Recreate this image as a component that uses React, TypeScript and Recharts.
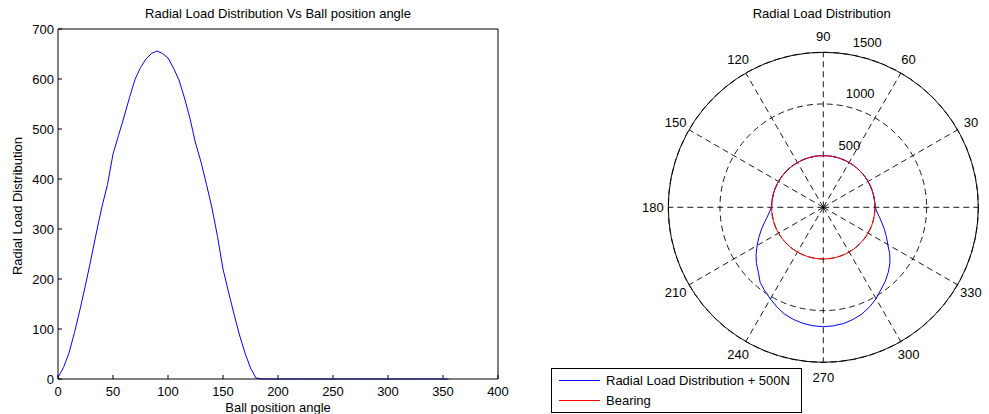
import React from 'react';
import {
  LineChart,
  Line,
  XAxis,
  YAxis,
  Label,
  RadarChart,
  Radar,
  PolarGrid,
  PolarAngleAxis,
  PolarRadiusAxis,
  Legend,
} from 'recharts';

const FONT = '"Liberation Sans", Arial, Helvetica, sans-serif';

// Ball position angle (degrees)
const ballAngles = [
  0, 5, 10, 15, 20, 25, 30, 35, 40, 45, 50, 55, 60, 65, 70, 75, 80, 85,
  90, 95, 100, 105, 110, 115, 120, 125, 130, 135, 140, 145, 150, 155, 160, 165, 170, 175,
  180, 185, 190, 195, 200, 205, 210, 215, 220, 225, 230, 235, 240, 245, 250, 255, 260, 265,
  270, 275, 280, 285, 290, 295, 300, 305, 310, 315, 320, 325, 330, 335, 340, 345, 350, 355,
];

// Radial load distribution (N)
const radialLoad = [
  3, 23, 52, 93, 139, 188, 240, 294, 345, 389,
  450, 487, 524, 563, 599, 623, 640, 651, 656, 651,
  642, 622, 598, 562, 521, 472, 434, 389, 342, 285,
  220, 174, 130, 88, 52, 22, 2,
  0, 0, 0, 0, 0, 0, 0, 0, 0, 0, 0, 0, 0, 0, 0, 0, 0, 0,
  0, 0, 0, 0, 0, 0, 0, 0, 0, 0, 0, 0, 0, 0, 0, 0, 0,
];

// Bearing radius (N) on the polar plot
const bearingLoad = [
  500, 500, 500, 500, 500, 500, 500, 500, 500, 500, 500, 500,
  500, 500, 500, 500, 500, 500, 500, 500, 500, 500, 500, 500,
  500, 500, 500, 500, 500, 500, 500, 500, 500, 500, 500, 500,
  500, 500, 500, 500, 500, 500, 500, 500, 500, 500, 500, 500,
  500, 500, 500, 500, 500, 500, 500, 500, 500, 500, 500, 500,
  500, 500, 500, 500, 500, 500, 500, 500, 500, 500, 500, 500,
];

const LOAD_OFFSET = 500; // "+ 500N"
const POLAR_ROTATION_STEPS = 36; // 180 degrees / 5-degree step

const xTicks = [0, 50, 100, 150, 200, 250, 300, 350, 400];
const yTicks = [0, 100, 200, 300, 400, 500, 600, 700];
const polarAngleTicks = [0, 30, 60, 90, 120, 150, 180, 210, 240, 270, 300, 330];
const polarRadiusTicks = [500, 1000, 1500];

const LEFT_TITLE = 'Radial Load Distribution Vs Ball position angle';
const RIGHT_TITLE = 'Radial Load Distribution';
const X_LABEL = 'Ball position angle';
const Y_LABEL = 'Radial Load Distribution';
const BLUE_NAME = 'Radial Load Distribution + 500N';
const RED_NAME = 'Bearing';
const LEGEND_ORDER = [BLUE_NAME, RED_NAME];

const lineData = ballAngles.map((a, i) => ({ angle: a, load: radialLoad[i] }));
const polarData = ballAngles.map((a, i) => ({
  angle: a,
  blue: LOAD_OFFSET + radialLoad[(i + POLAR_ROTATION_STEPS) % radialLoad.length],
  bearing: bearingLoad[i],
}));

const AngleTick = (props: any) => {
  const { x, y, payload } = props;
  return (
    <text x={x} y={y} textAnchor="middle" dominantBaseline="central" fill="#000" fontSize={13} fontFamily={FONT}>
      {payload.value}
    </text>
  );
};

const RadiusTick = (props: any) => {
  const { x, y, payload } = props;
  if (!payload || payload.value === 0) return <g />;
  return (
    <text x={x + 8} y={y - 11} textAnchor="start" dominantBaseline="central" fill="#000" fontSize={13} fontFamily={FONT}>
      {payload.value}
    </text>
  );
};

const LegendBox = (props: any) => {
  const items = [...(props.payload || [])].sort(
    (a: any, b: any) => LEGEND_ORDER.indexOf(a.value) - LEGEND_ORDER.indexOf(b.value)
  );
  return (
    <div
      style={{
        position: 'relative',
        width: 249,
        height: 43,
        border: '1px solid #000',
        background: '#fff',
        fontFamily: FONT,
        fontSize: 13,
        color: '#000',
      }}
    >
      {items.map((it: any, i: number) => (
        <div
          key={i}
          style={{ position: 'absolute', left: 0, top: 2 + i * 20, height: 18, display: 'flex', alignItems: 'center' }}
        >
          <span style={{ display: 'inline-block', marginLeft: 7, width: 41, height: 0, borderTop: `1px solid ${it.color}` }} />
          <span style={{ marginLeft: 6, whiteSpace: 'nowrap' }}>{it.value}</span>
        </div>
      ))}
    </div>
  );
};

const YLabel = (props: any) => {
  const vb = props.viewBox || { x: 0, y: 0, width: 0, height: 0 };
  const cx = vb.x + 17;
  const cy = vb.y + vb.height / 2 + 2;
  return (
    <text
      x={cx}
      y={cy}
      transform={`rotate(-90, ${cx}, ${cy})`}
      textAnchor="middle"
      dominantBaseline="central"
      fill="#000"
      fontSize={13}
      fontFamily={FONT}
    >
      {Y_LABEL}
    </text>
  );
};

export default function App() {
  return (
    <div style={{ position: 'absolute', left: 0, top: 0, width: 989, height: 414, background: '#fff', fontFamily: FONT, overflow: 'hidden' }}>
      <div style={{ position: 'absolute', left: 0, top: 0 }}>
        <LineChart width={520} height={414} data={lineData} margin={{ top: 28, right: 21, bottom: 0, left: 0 }}>
          <XAxis
            xAxisId="bottom"
            dataKey="angle"
            type="number"
            domain={[0, 400]}
            ticks={xTicks}
            interval={0}
            stroke="#000"
            tickSize={-4}
            tickMargin={12}
            tick={{ fill: '#000', fontSize: 13 }}
            height={35}
          >
            <Label value={X_LABEL} position="insideBottom" offset={2} fill="#000" fontSize={13} />
          </XAxis>
          <XAxis
            xAxisId="top"
            orientation="top"
            type="number"
            domain={[0, 400]}
            ticks={xTicks}
            interval={0}
            stroke="#000"
            tickSize={-4}
            tick={false}
            height={1}
          >
            <Label value={LEFT_TITLE} position="top" offset={10} fill="#000" fontSize={13} />
          </XAxis>
          <YAxis
            yAxisId="left"
            type="number"
            domain={[0, 700]}
            ticks={yTicks}
            interval={0}
            stroke="#000"
            tickSize={-4}
            tickMargin={8}
            tick={{ fill: '#000', fontSize: 13 }}
            width={58}
          >
            <Label content={YLabel} />
          </YAxis>
          <YAxis
            yAxisId="right"
            orientation="right"
            type="number"
            domain={[0, 700]}
            ticks={yTicks}
            interval={0}
            stroke="#000"
            tickSize={-4}
            tick={false}
            width={1}
          />
          <Line
            xAxisId="bottom"
            yAxisId="left"
            type="linear"
            dataKey="load"
            stroke="#0000ff"
            strokeWidth={1}
            dot={false}
            isAnimationActive={false}
          />
        </LineChart>
      </div>
      <div style={{ position: 'absolute', left: 540, top: 0 }}>
        <RadarChart
          width={449}
          height={414}
          data={polarData}
          cx={283.3}
          cy={207.3}
          outerRadius={155}
          startAngle={0}
          endAngle={360}
          margin={{ top: 0, right: 0, bottom: 0, left: 0 }}
        >
          <PolarGrid gridType="circle" stroke="#000" strokeWidth={0.9} strokeDasharray="6 4" />
          <PolarAngleAxis
            dataKey="angle"
            type="number"
            domain={[0, 360]}
            ticks={polarAngleTicks}
            tickSize={15.5}
            axisLineType="circle"
            axisLine={{ stroke: '#000', strokeWidth: 1 }}
            tickLine={false}
            tick={AngleTick}
          />
          <PolarRadiusAxis
            angle={82}
            type="number"
            domain={[0, 1500]}
            ticks={polarRadiusTicks}
            axisLine={false}
            tickLine={false}
            tick={RadiusTick}
          />
          <Radar
            name={BLUE_NAME}
            dataKey="blue"
            stroke="#0000ff"
            strokeWidth={1}
            fill="none"
            fillOpacity={0}
            dot={false}
            isAnimationActive={false}
          />
          <Radar
            name={RED_NAME}
            dataKey="bearing"
            stroke="#ff0000"
            strokeWidth={1}
            fill="none"
            fillOpacity={0}
            dot={false}
            isAnimationActive={false}
          />
          <Legend
            layout="horizontal"
            verticalAlign="bottom"
            content={LegendBox}
            wrapperStyle={{ left: 11, top: 368, width: 251, height: 45 }}
          />
          <text x={281.7} y={18} textAnchor="middle" fill="#000" fontSize={13} fontFamily={FONT}>
            {RIGHT_TITLE}
          </text>
        </RadarChart>
      </div>
    </div>
  );
}
